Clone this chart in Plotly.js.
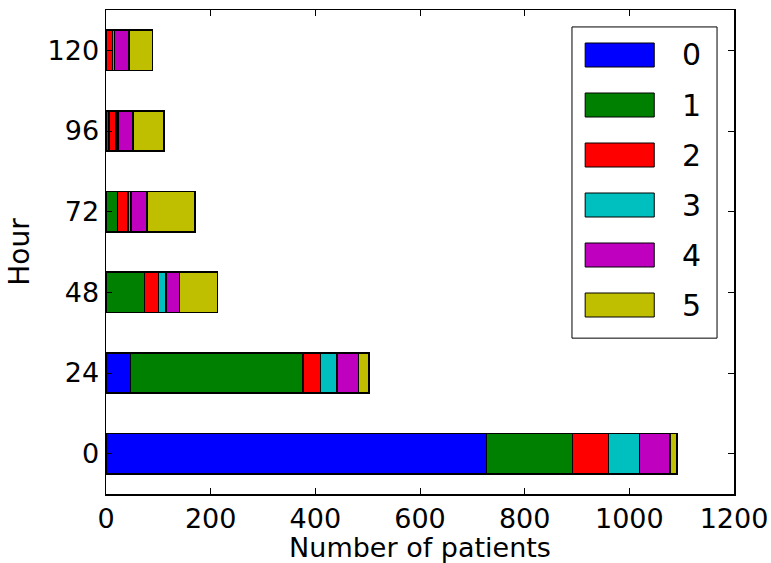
<!DOCTYPE html>
<html>
<head>
<meta charset="utf-8">
<script src="https://cdn.plot.ly/plotly-3.0.1.min.js"></script>
<style>html,body{margin:0;padding:0;background:#fff;}#chart{width:771px;height:563px;}</style>
</head>
<body>
<div id="chart"></div>
<script>
const hours = ['0', '24', '48', '72', '96', '120'];
const seriesNames = ['0', '1', '2', '3', '4', '5'];
const seriesColors = ['#0000ff', '#008000', '#ff0000', '#00bfbf', '#bf00bf', '#bfbf00'];
const s0 = [727, 47, 0, 0, 0, 0];
const s1 = [164, 329, 74, 22, 6, 0];
const s2 = [69, 34, 26, 20, 13, 12];
const s3 = [59, 31, 15, 6, 4, 4];
const s4 = [59, 41, 25, 30, 29, 28];
const s5 = [13, 21, 73, 92, 59, 45];
const xTicks = [0, 200, 400, 600, 800, 1000, 1200];

const seriesValues = [s0, s1, s2, s3, s4, s5];
const FONT = 'DejaVu Sans, sans-serif';

const traces = seriesValues.map((vals, i) => ({
  type: 'bar',
  orientation: 'h',
  name: seriesNames[i],
  y: hours,
  x: vals,
  width: 0.5,
  marker: {color: seriesColors[i], line: {color: '#000', width: 1.5}},
  showlegend: false,
  hoverinfo: 'x+name'
}));

// Matplotlib-style legend box built from the series names / colors
const shapes = [];
const annotations = [];
const lx0 = 0.742, lx1 = 0.973, ly0 = 0.322, ly1 = 0.965;
shapes.push({type: 'rect', xref: 'paper', yref: 'paper', x0: lx0, x1: lx1, y0: ly0, y1: ly1,
  line: {color: '#000', width: 1}, fillcolor: '#fff', layer: 'above'});
const plotH = 484;
seriesNames.forEach((nm, i) => {
  const cy = 1 - (45 + 50 * i) / plotH; // centre of entry, paper coords
  const h = 24 / plotH;
  shapes.push({type: 'rect', xref: 'paper', yref: 'paper', x0: 0.763, x1: 0.873,
    y0: cy - h / 2, y1: cy + h / 2, fillcolor: seriesColors[i], line: {color: '#000', width: 1}, layer: 'above'});
  annotations.push({xref: 'paper', yref: 'paper', x: 0.933, y: cy, text: nm, showarrow: false,
    xanchor: 'center', yanchor: 'middle', font: {family: FONT, size: 30, color: '#000'}});
});

const layout = {
  width: 771, height: 563,
  margin: {l: 106, r: 37, t: 10, b: 69, pad: 0},
  paper_bgcolor: '#fff', plot_bgcolor: '#fff',
  barmode: 'stack',
  showlegend: false,
  font: {family: FONT, size: 28, color: '#000'},
  xaxis: {
    range: [0, 1200], tickvals: xTicks, ticktext: xTicks.map(String),
    showgrid: false, zeroline: false, showline: true, linecolor: '#000', linewidth: 1.5,
    mirror: 'ticks', ticks: 'inside', ticklen: 6, tickwidth: 1, tickcolor: '#000',
    tickfont: {family: FONT, size: 27, color: '#000'},
    title: {text: 'Number of patients', font: {family: FONT, size: 27, color: '#000'}, standoff: 13}
  },
  yaxis: {
    type: 'category', categoryorder: 'array', categoryarray: hours, range: [-0.5, 5.5],
    showgrid: false, zeroline: false, showline: true, linecolor: '#000', linewidth: 1.5,
    mirror: 'ticks', ticks: 'inside', ticklen: 6, tickwidth: 1, tickcolor: '#000',
    tickfont: {family: FONT, size: 27, color: '#000'},
    title: {text: 'Hour', font: {family: FONT, size: 28, color: '#000'}, standoff: 10}
  },
  shapes: shapes,
  annotations: annotations
};

Plotly.newPlot('chart', traces, layout, {displayModeBar: false, staticPlot: true});
</script>
</body>
</html>
